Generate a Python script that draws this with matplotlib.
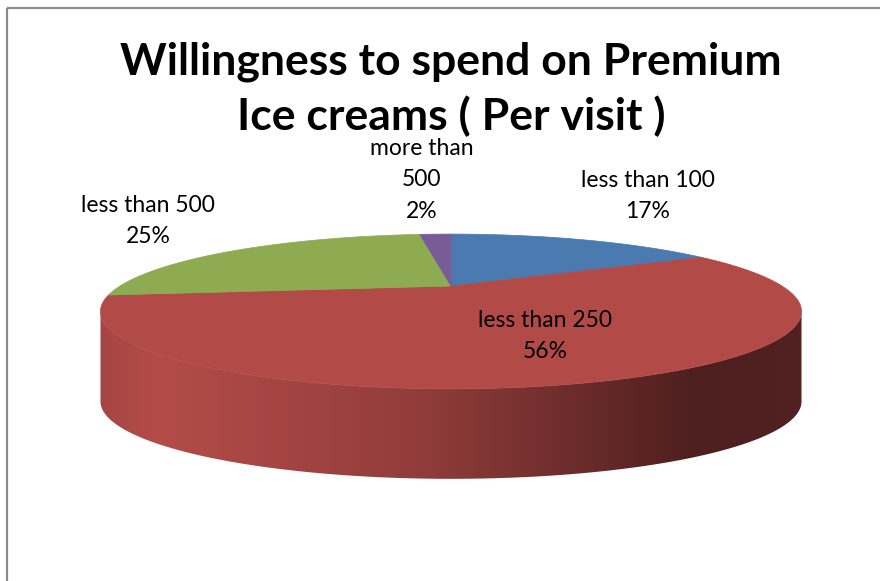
import numpy as np
import matplotlib.pyplot as plt
from matplotlib.patches import Polygon, Rectangle

# survey answers: spend per visit on premium ice cream
categories = ["less than 100", "less than 250", "less than 500", "more than\n500"]
shares = [17, 56, 25, 2]
colors = ["#4a7aaf", "#b24a47", "#8fab52", "#775c97"]

title = "Willingness to spend on Premium\nIce creams ( Per visit )"

# where each data label sits (pixels)
label_xy = [(648, 196), (545, 336), (148, 221), (422, 180)]

# 3d pie geometry in pixels (perspective tilt)
CX, CY = 451, 286
A, B, K = 331, 69, 0.329
DEPTH = 90


def project(theta):
    # theta measured clockwise from 12 o'clock on the top face
    X = np.sin(theta)
    Y = -np.cos(theta)
    w = 1 - K * Y
    return CX + A * X / w, CY + B * Y / w


fig = plt.figure(figsize=(8.8, 5.81), dpi=100)
ax = fig.add_axes([0, 0, 1, 1])
ax.set_xlim(0, 880)
ax.set_ylim(581, 0)
ax.axis("off")

# outer chart frame
ax.add_patch(Rectangle((6.5, 7.5), 900, 600, fill=False, ec="#8a8a8a", lw=1.6))

# side wall of the cylinder (front half only)
t = np.linspace(0, 2 * np.pi, 2000)
u, v = project(t)
t_right = t[np.argmax(u)]
t_left = t[np.argmin(u)]
ts = np.linspace(t_right, t_left, 400)
su, sv = project(ts)
side_pts = np.vstack([np.column_stack([su, sv]),
                      np.column_stack([su[::-1], sv[::-1] + DEPTH])])
side = Polygon(side_pts, closed=True, fc="none", ec="none")
ax.add_patch(side)

# horizontal shading on the red wall, light at left and dark at right
stops_x = [0.0, 0.08, 0.45, 0.85, 1.0]
stops_c = np.array([[165, 70, 68], [180, 76, 73], [146, 61, 59],
                    [78, 31, 31], [82, 33, 33]]) / 255
gx = np.linspace(0, 1, 512)
grad = np.stack([np.interp(gx, stops_x, stops_c[:, i]) for i in range(3)], axis=-1)
grad = np.tile(grad[None, :, :], (4, 1, 1))
x0, x1 = su.min(), su.max()
img = ax.imshow(grad, extent=(x0, x1, sv.max() + DEPTH + 2, sv.min() - 2),
                aspect="auto", interpolation="bilinear", zorder=1)
img.set_clip_path(side)

# top face wedges
start = 0.0
for share, col in zip(shares, colors):
    end = start + share / 100 * 2 * np.pi
    ta = np.linspace(start, end, max(int(share * 6), 8))
    wu, wv = project(ta)
    pts = np.vstack([[CX, CY], np.column_stack([wu, wv])])
    ax.add_patch(Polygon(pts, closed=True, fc=col, ec=col, lw=0.5, zorder=2))
    start = end

# data labels
for name, share, (lx, ly) in zip(categories, shares, label_xy):
    ax.text(lx, ly, f"{name}\n{share}%", ha="center", va="center",
            fontsize=16.5, family="Lato", linespacing=1.62, zorder=5)

ax.text(451, 89, title, ha="center", va="center", fontsize=32,
        family="Lato", fontweight="bold", linespacing=1.4, zorder=4)

fig.savefig("out.png", dpi=100)
